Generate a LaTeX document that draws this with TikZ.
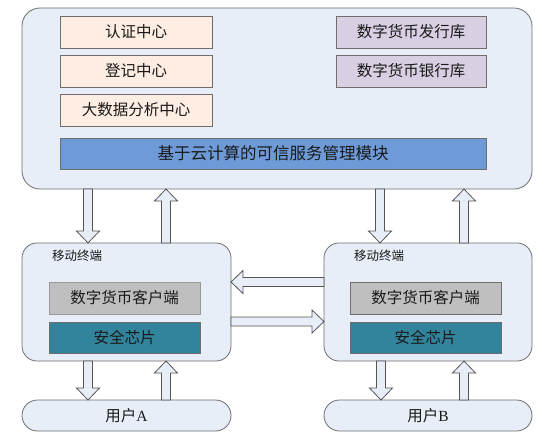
\documentclass[tikz,border=0pt]{standalone}
\usepackage{fontspec}
\setmainfont{Noto Sans CJK SC}
\newfontfamily\latinserif{Liberation Serif}
\usetikzlibrary{calc}
\definecolor{cloudbg}{HTML}{E7EEF8}
\definecolor{lineg}{HTML}{6E6E6E}
\definecolor{peach}{HTML}{FDEDE2}
\definecolor{lav}{HTML}{D8CFE2}
\definecolor{barblue}{HTML}{6E9BD8}
\definecolor{greybox}{HTML}{BFBFBF}
\definecolor{teal}{HTML}{31849B}
\definecolor{txt}{HTML}{1A1A1A}
\definecolor{arrline}{HTML}{555555}
\newcommand{\vblock}[3]{\draw[blockarr] let \p1=(#2), \p2=(#3), \n1={ifthenelse(\y2>\y1,1,-1)} in
 ({#1pt-4.5pt},\y1) -- ({#1pt+4.5pt},\y1) -- ({#1pt+4.5pt},{\y2-(\n1)*12pt}) -- ({#1pt+11.5pt},{\y2-(\n1)*12pt}) -- ({#1pt},\y2) -- ({#1pt-11.5pt},{\y2-(\n1)*12pt}) -- ({#1pt-4.5pt},{\y2-(\n1)*12pt}) -- cycle;}
\newcommand{\hblock}[3]{\draw[blockarr] let \p1=(#2), \p2=(#3), \n1={ifthenelse(\x2>\x1,1,-1)} in
 (\x1,{-#1pt+4.5pt}) -- (\x1,{-#1pt-4.5pt}) -- ({\x2-(\n1)*12pt},{-#1pt-4.5pt}) -- ({\x2-(\n1)*12pt},{-#1pt-11.5pt}) -- (\x2,{-#1pt}) -- ({\x2-(\n1)*12pt},{-#1pt+11.5pt}) -- ({\x2-(\n1)*12pt},{-#1pt+4.5pt}) -- cycle;}
\begin{document}
\begin{tikzpicture}[x=1pt,y=-1pt,
  base/.style={draw=lineg, line width=0.8pt, inner sep=0pt, outer sep=0pt, anchor=north west, text=txt, font=\fontsize{15.5pt}{18pt}\selectfont},
  bigbox/.style={base, fill=cloudbg, rounded corners=18pt},
  termbox/.style={base, fill=cloudbg, rounded corners=15pt},
  userbox/.style={base, fill=cloudbg, rounded corners=15.5pt},
  lbox/.style={base, fill=peach},
  rbox/.style={base, fill=lav},
  bar/.style={base, fill=barblue, font=\fontsize{16.5pt}{19pt}\selectfont},
  graybox/.style={base, fill=greybox},
  chip/.style={base, fill=teal},
  tlabel/.style={anchor=west, inner sep=0pt, text=txt, font=\fontsize{12.5pt}{14pt}\selectfont},
  blockarr/.style={draw=arrline, fill=cloudbg, line width=0.8pt, line join=miter}]
\useasboundingbox (0,0) rectangle (545,436);
% cloud platform
\node[bigbox, minimum width=510pt, minimum height=181pt] (cloud) at (22,8) {};
\node[lbox, minimum width=152pt, minimum height=32pt] (auth) at (60,16) {认证中心};
\node[lbox, minimum width=152pt, minimum height=32pt] (reg) at (60,55) {登记中心};
\node[lbox, minimum width=152pt, minimum height=32pt] (bigdata) at (60,94) {大数据分析中心};
\node[rbox, minimum width=150pt, minimum height=32pt] (issue) at (336,16) {数字货币发行库};
\node[rbox, minimum width=150pt, minimum height=32pt] (bank) at (336,55) {数字货币银行库};
\node[bar, minimum width=426pt, minimum height=31pt] (tsm) at (60,138) {基于云计算的可信服务管理模块};
% terminals
\node[termbox, minimum width=209pt, minimum height=118pt] (termA) at (22,243) {};
\node[termbox, minimum width=208pt, minimum height=118pt] (termB) at (324,243) {};
\node[tlabel] (labA) at ([xshift=30pt,yshift=-13pt]termA.north west) {移动终端};
\node[tlabel] (labB) at ([xshift=30pt,yshift=-13pt]termB.north west) {移动终端};
\node[graybox, draw=greybox!80!black, minimum width=151pt, minimum height=32pt] (clientA) at (49,282) {数字货币客户端};
\node[chip, minimum width=151pt, minimum height=31pt] (chipA) at (49,322) {安全芯片};
\node[graybox, minimum width=151pt, minimum height=32pt] (clientB) at (350,282) {数字货币客户端};
\node[chip, minimum width=151pt, minimum height=31pt] (chipB) at (350,322) {安全芯片};
% users
\node[userbox, minimum width=209pt, minimum height=31pt] (userA) at (22,400) {用户{\latinserif A}};
\node[userbox, minimum width=208pt, minimum height=31pt] (userB) at (324,400) {用户{\latinserif B}};
% arrows
\vblock{88}{cloud.south}{termA.north}
\vblock{166}{termA.north}{cloud.south}
\vblock{380}{cloud.south}{termB.north}
\vblock{464}{termB.north}{cloud.south}
\vblock{88}{termA.south}{userA.north}
\vblock{166}{userA.north}{termA.south}
\vblock{381}{termB.south}{userB.north}
\vblock{464}{userB.north}{termB.south}
\hblock{282}{termB.west}{termA.east}
\hblock{321.5}{termA.east}{termB.west}
\end{tikzpicture}
\end{document}
